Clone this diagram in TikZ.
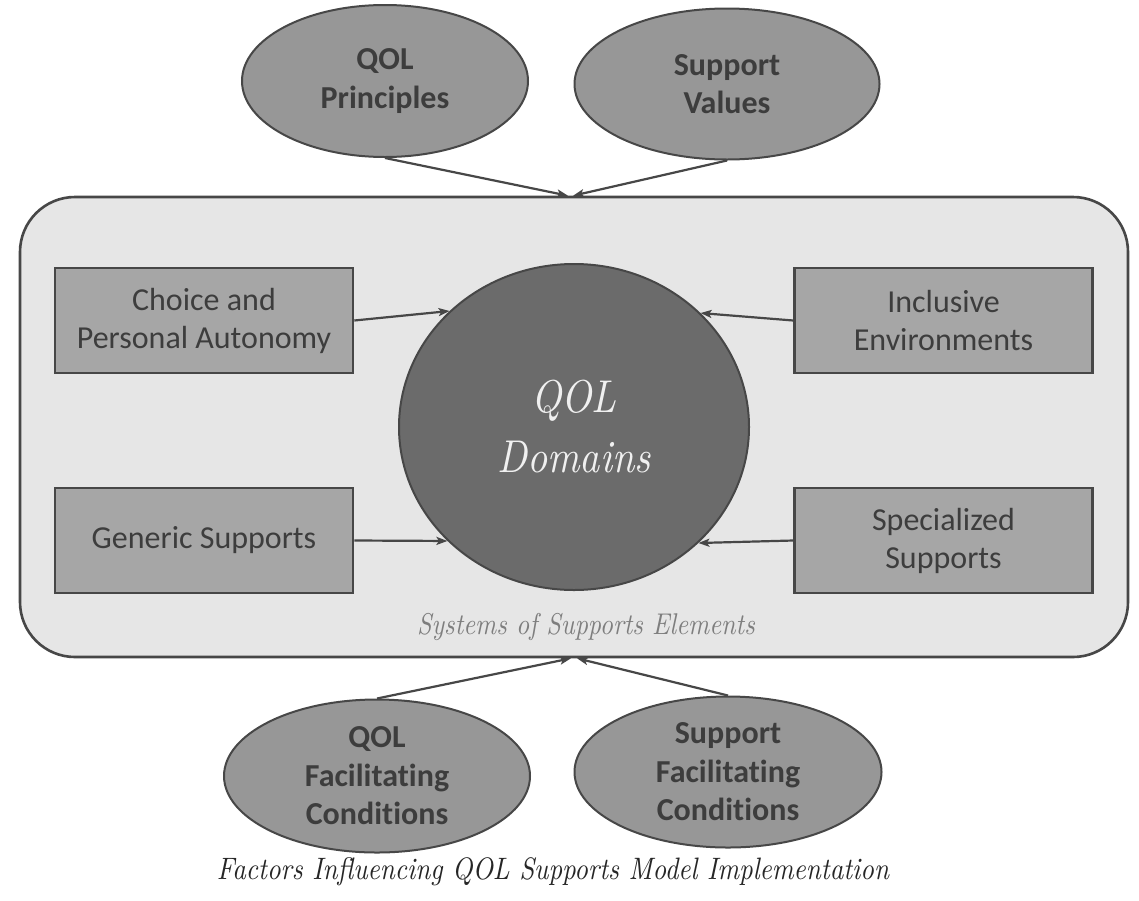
\documentclass[tikz,border=0pt]{standalone}
\usepackage{fontspec}
\setsansfont{Carlito}[Ligatures=NoCommon]
\newfontfamily\calligit{lmroman10-italic.otf}[FakeStretch=0.86]
\usetikzlibrary{shapes.geometric,arrows.meta,calc}
\definecolor{frameline}{HTML}{474747}
\definecolor{framefill}{HTML}{E6E6E6}
\definecolor{boxfill}{HTML}{A6A6A6}
\definecolor{ovalfill}{HTML}{979797}
\definecolor{corefill}{HTML}{6B6B6B}
\definecolor{darktext}{HTML}{3D3D3D}
\definecolor{softtext}{HTML}{7E7E7E}
\begin{document}
\begin{tikzpicture}[x=1pt,y=-1pt,
  sysframe/.style={draw=frameline,line width=2.6pt,fill=framefill,rounded corners=55pt,
    minimum width=1108pt,minimum height=460pt,inner sep=0pt},
  elembox/.style={draw=frameline,line width=2.6pt,fill=boxfill,minimum width=298pt,
    minimum height=105pt,inner sep=0pt,align=center,text=darktext,
    font=\sffamily\fontsize{32}{38}\selectfont},
  factoval/.style={ellipse,draw=frameline,line width=2pt,fill=ovalfill,inner sep=0pt,
    align=center,text=darktext,font=\sffamily\bfseries\fontsize{32}{38.5}\selectfont},
  core/.style={ellipse,draw=frameline,line width=2pt,fill=corefill,inner sep=0pt,
    minimum width=350pt,minimum height=326pt,align=center,text=white!94!black,
    font=\calligit\fontsize{46}{60}\selectfont},
  caption/.style={text=softtext,font=\calligit\fontsize{30}{34}\selectfont},
  link/.style={draw=frameline,line width=2.2pt,-{Stealth[length=11pt,width=8pt,inset=2.5pt]}}]
\useasboundingbox (0,0) rectangle (1139,900);
\fill[white] (0,0) rectangle (1139,900);

% frame holding the support elements
\node[sysframe] (sys) at (574,427) {};
\node[caption] (syslabel) at (586,627) {Systems of Supports Elements};

% central domain
\node[core] (dom) at (574,427) {QOL\\Domains};

% four support elements
\node[elembox] (choice) at (204,320.5) {Choice and\\Personal Autonomy};
\node[elembox] (incl)   at (943.5,320.5) {Inclusive\\Environments};
\node[elembox] (gen)    at (204,540.5) {Generic Supports};
\node[elembox] (spec)   at (943.5,540.5) {Specialized\\Supports};

\draw[link] (choice.east) -- (dom.137.6);
\draw[link] (incl.west) -- (dom.42.4);
\draw[link] (gen.east) -- (dom.222.4);
\draw[link] (spec.west) -- (dom.317.6);

% influencing factors above and below
\node[factoval,minimum width=286pt,minimum height=152pt] (princ) at (385,81) {QOL\\Principles};
\node[factoval,minimum width=305pt,minimum height=151pt] (vals) at (727,84) {Support\\Values};
\node[factoval,minimum width=306pt,minimum height=153pt] (qfac) at (377,776) {QOL\\Facilitating\\Conditions};
\node[factoval,minimum width=307pt,minimum height=151pt] (sfac) at (728,772) {Support\\Facilitating\\Conditions};

\coordinate (topL) at ($(sys.north)+(-6,0)$);
\coordinate (topR) at ($(sys.north)+(-1,0)$);
\coordinate (botL) at ($(sys.south)+(-3,0)$);
\coordinate (botR) at ($(sys.south)+(3,0)$);
\draw[link] (princ.south) -- (topL);
\draw[link] (vals.south) -- (topR);
\draw[link] (qfac.north) -- (botL);
\draw[link] (sfac.north) -- (botR);

\node[text=black!85,font=\calligit\fontsize{31}{36}\selectfont] (title) at (553,872)
  {Factors Influencing QOL Supports Model Implementation};
\end{tikzpicture}
\end{document}
